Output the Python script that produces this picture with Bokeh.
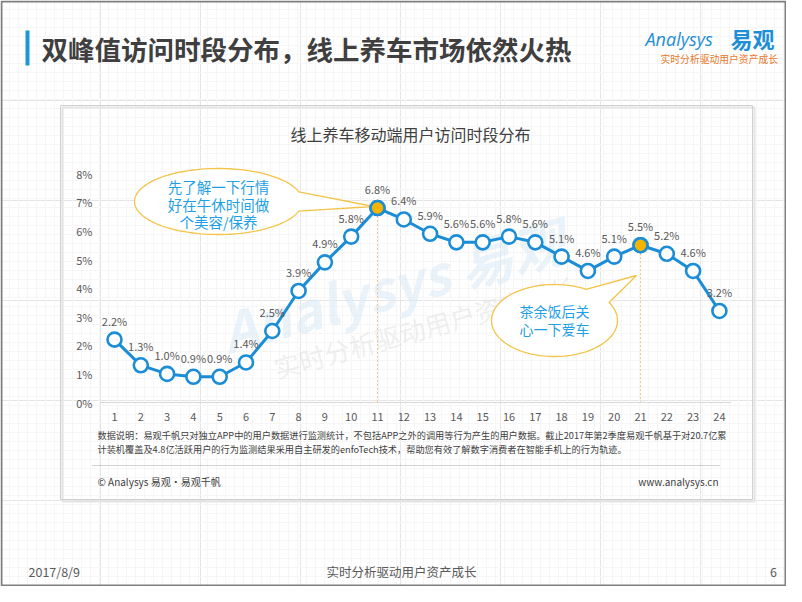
import numpy as np
from bokeh.plotting import figure
from bokeh.models import Range1d, ColumnDataSource, SingleIntervalTicker, Grid
from bokeh.core.properties import value
from bokeh.embed import file_html
from bokeh.resources import INLINE

# ---------------- data ----------------
hours = list(range(1, 25))
hour_labels = [str(h) for h in hours]
share = [2.2, 1.3, 1.0, 0.9, 0.9, 1.4, 2.5, 3.9, 4.9, 5.8, 6.8, 6.4,
         5.9, 5.6, 5.6, 5.8, 5.6, 5.1, 4.6, 5.1, 5.5, 5.2, 4.6, 3.2]
share_labels = [f"{v:.1f}%" for v in share]
peak_hours = [11, 21]
y_ticks = [0, 1, 2, 3, 4, 5, 6, 7, 8]
y_tick_labels = [f"{t}%" for t in y_ticks]

page_title = "双峰值访问时段分布，线上养车市场依然火热"
chart_title = "线上养车移动端用户访问时段分布"
callout1 = ["先了解一下行情", "好在午休时间做", "个美容/保养"]
callout2 = ["茶余饭后关", "心一下爱车"]
note_lines = ["数据说明：易观千帆只对独立APP中的用户数据进行监测统计，不包括APP之外的调用等行为产生的用户数据。截止2017年第2季度易观千帆基于对20.7亿累",
              "计装机覆盖及4.8亿活跃用户的行为监测结果采用自主研发的enfoTech技术，帮助您有效了解数字消费者在智能手机上的行为轨迹。"]
source_left = "© Analysys 易观·易观千帆"
source_right = "www.analysys.cn"
footer_date = "2017/8/9"
footer_slogan = "实时分析驱动用户资产成长"
footer_page = "6"

FONT = value("Noto Sans CJK SC")
BLUE = "#1B8DD6"
GOLD = "#F5B400"
TXT = "#404040"

W, H = 786, 586
# decoration coordinates are picture pixels
p = figure(width=W, height=H, x_range=Range1d(0, W), y_range=Range1d(H, 0),
           output_backend="svg", toolbar_location=None, min_border=0,
           x_axis_location=None, y_axis_location=None, outline_line_color=None)
p.background_fill_color = "white"

# data scales: hour -> pixel x, percent -> pixel y
x0_px, dx_px = 114.0, 26.3
y0_px, dy_px = 402.0, 28.6
p.extra_x_ranges = {"hr": Range1d(1 - x0_px / dx_px, 1 + (W - x0_px) / dx_px)}
p.extra_y_ranges = {"pct": Range1d((y0_px - H) / dy_px, y0_px / dy_px)}
D = dict(x_range_name="hr", y_range_name="pct")

# faint background grid
for dim in (0, 1):
    p.add_layout(Grid(dimension=dim, ticker=SingleIntervalTicker(interval=9),
                      grid_line_color="#F6F6F6", grid_line_width=1))

# slide border
p.quad(left=[1], right=[W - 1], top=[1], bottom=[H - 1], fill_color=None,
       line_color="#7F7F7F", line_width=2)

# page title
p.quad(left=[25], right=[29], top=[30], bottom=[65], fill_color="#1E96D8", line_color=None)
p.text(x=[41], y=[48], text=[page_title], text_font=FONT, text_font_size="26.5px",
       text_font_style="bold", text_color="#3F3F3F", text_baseline="middle")

# logo
p.text(x=[645], y=[38], text=["Analysys"], text_font=value("Open Sans"), text_font_size="18px",
       text_font_style="italic", text_color="#1E8FD6", text_baseline="middle")
p.text(x=[730], y=[37], text=["易观"], text_font=FONT, text_font_size="22px",
       text_font_style="bold", text_color="#1E8FD6", text_baseline="middle")
p.text(x=[660], y=[58], text=[footer_slogan], text_font=FONT, text_font_size="9.8px",
       text_color="#E8782A", text_baseline="middle")

# chart panel (shadow + border)
p.quad(left=[62], right=[754], top=[107], bottom=[501], fill_color=None,
       line_color="#E4E4E4", line_width=2)
p.quad(left=[60], right=[752], top=[105], bottom=[499], fill_color=None,
       line_color="#D0D0D0", line_width=1)

# chart title
p.text(x=[410], y=[133], text=[chart_title], text_font=FONT, text_font_size="16px",
       text_color=TXT, text_align="center", text_baseline="middle")

# watermark
p.text(x=[392], y=[284], text=["Analysys 易观"], text_font=FONT, text_font_size="54px",
       text_font_style="bold italic", text_color="#D9EAF6", text_alpha=0.55,
       text_align="center", text_baseline="middle", angle=0.27)
p.text(x=[424], y=[326], text=[footer_slogan], text_font=FONT, text_font_size="26px",
       text_color="#DCDCDC", text_alpha=0.45,
       text_align="center", text_baseline="middle", angle=0.27)

# axis baseline and tick labels (through data scales)
p.segment(x0=[hours[0] - 0.55], y0=[y_ticks[0]], x1=[hours[-1] + 0.45], y1=[y_ticks[0]],
          line_color="#D9D9D9", line_width=1, **D)
p.text(x=[hours[0]] * len(y_ticks), y=y_ticks, text=y_tick_labels, x_offset=-22,
       text_font=FONT, text_font_size="11px", text_color="#595959",
       text_align="right", text_baseline="middle", **D)
p.text(x=hours, y=[y_ticks[0]] * len(hours), text=hour_labels, y_offset=14,
       text_font=FONT, text_font_size="11px", text_color="#595959",
       text_align="center", text_baseline="middle", **D)

# peak dashed guides
peak_vals = [share[hours.index(h)] for h in peak_hours]
p.segment(x0=peak_hours, y0=peak_vals, x1=peak_hours, y1=[y_ticks[0]] * len(peak_hours),
          line_color="#F6C28E", line_width=1, line_dash="2 2", **D)

# callouts
def bubble(cx, cy, a, b, t1, t2, tip):
    th = np.radians(np.linspace(t1, t2, 120))
    xs = list(cx + a * np.cos(th)) + [tip[0]]
    ys = list(cy + b * np.sin(th)) + [tip[1]]
    p.patch(xs, ys, fill_color="white", fill_alpha=0.95, line_color="#F3C44A", line_width=1.3)

bubble(218, 201, 84, 33, 17, 343, (373, 206))
bubble(554, 320, 63, 36, -30, 300, (636, 275))

p.text(x=[218] * 3, y=[186, 204, 221], text=callout1, text_font=FONT, text_font_size="14.5px",
       text_color="#1FA0E6", text_align="center", text_baseline="middle")
p.text(x=[554] * 2, y=[310, 328], text=callout2, text_font=FONT, text_font_size="14px",
       text_color="#1FA0E6", text_align="center", text_baseline="middle")

# series
src = ColumnDataSource(dict(x=hours, y=share, lab=share_labels))
p.line("x", "y", source=src, line_color=BLUE, line_width=3, **D)
p.scatter("x", "y", source=src, size=14, fill_color="white", line_color=BLUE, line_width=2.6, **D)
p.scatter(x=peak_hours, y=peak_vals, size=14, fill_color=GOLD, line_color=BLUE, line_width=2.6, **D)
p.text("x", "y", text="lab", source=src, y_offset=-11, text_font=FONT, text_font_size="11px",
       text_color="#595959", text_align="center", text_baseline="bottom", **D)

# notes
p.text(x=[97, 97], y=[434, 448], text=note_lines, text_font=FONT, text_font_size="9.2px",
       text_color=TXT, text_baseline="middle")
p.segment(x0=[92], y0=[465], x1=[720], y1=[465], line_color="#A6A6A6", line_dash="1 1", line_width=1)
p.text(x=[97], y=[481], text=[source_left], text_font=FONT, text_font_size="10px",
       text_color=TXT, text_baseline="middle")
p.text(x=[718], y=[481], text=[source_right], text_font=FONT, text_font_size="10px",
       text_color=TXT, text_baseline="middle", text_align="right")

# slide footer
p.text(x=[28], y=[571], text=[footer_date], text_font=FONT, text_font_size="12.5px",
       text_color="#595959", text_baseline="middle")
p.text(x=[401], y=[571], text=[footer_slogan], text_font=FONT, text_font_size="12.5px",
       text_color="#595959", text_baseline="middle", text_align="center")
p.text(x=[773], y=[571], text=[footer_page], text_font=FONT, text_font_size="12.5px",
       text_color="#595959", text_baseline="middle", text_align="center")

open("out.html", "w").write(file_html(p, INLINE))
